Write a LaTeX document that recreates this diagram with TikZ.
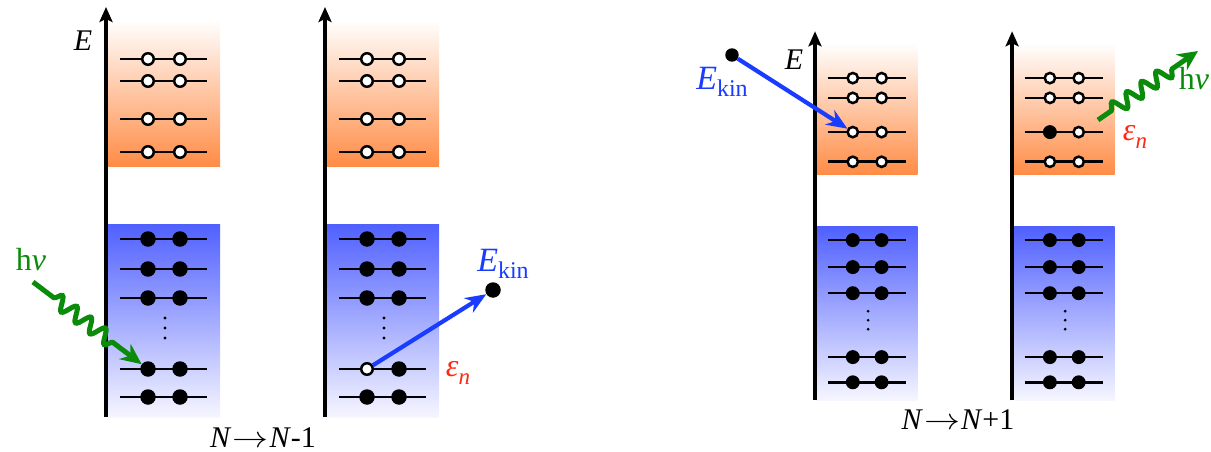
\documentclass[tikz,border=0pt]{standalone}
\usepackage{fix-cm}
\usepackage{graphicx}
\usepackage{fontspec}
\setmainfont{Liberation Serif}
\usetikzlibrary{arrows.meta,decorations.pathmorphing}
\definecolor{orangeC}{RGB}{255,140,70}
\definecolor{blueC}{RGB}{80,96,255}
\definecolor{blueBot}{RGB}{246,246,255}
\definecolor{greenC}{RGB}{10,140,10}
\definecolor{arrowblue}{RGB}{25,60,255}
\definecolor{redC}{RGB}{255,40,20}
\newcommand\subkin{\raisebox{-0.22em}{\fontsize{24}{24}\selectfont kin}}
\newcommand\subn{\raisebox{-0.25em}{\fontsize{23}{23}\selectfont\textit{n}}}
\newcommand\longarr{\kern1pt\scalebox{1.2}[1]{$\rightarrow$}\kern1pt}
\tikzset{
  axis/.style={line width=3.3pt, -{Stealth[length=15pt,width=13pt,inset=3pt]}},
  lvl/.style={line width=2.6pt},
  hole/.style={circle, draw=black, fill=white, line width=2.5pt, inner sep=0pt, minimum size=11.5pt, transform shape},
  elec/.style={circle, fill=black, inner sep=0pt, minimum size=15.5pt, transform shape},
  dotc/.style={circle, fill=black, inner sep=0pt, minimum size=3.4pt, transform shape},
  lab/.style={font=\fontsize{30}{36}\selectfont, inner sep=0pt},
  photon/.style={draw=greenC, line width=5pt, -{Stealth[length=21pt,width=19pt]}, decorate,
    decoration={snake, amplitude=7pt, segment length=18pt, pre length=26pt, post length=34pt}},
  photonb/.style={draw=greenC, line width=5pt, -{Stealth[length=20pt,width=19pt]}, decorate,
    decoration={snake, amplitude=7pt, segment length=18pt, pre length=16pt, post length=26pt}},
  eflow/.style={draw=arrowblue, line width=4.2pt, -{Stealth[length=21pt,width=17pt]}},
}
\newcommand\bandpanel[3]{%
  \shade[top color=white, bottom color=orangeC] (2,20) rectangle (114,166);
  \shade[top color=blueC, bottom color=blueBot] (2,224) rectangle (114,417);
  \draw[axis] (0,417) -- (0,7);
  \foreach \y in {59,81,119,152,239,269,298,369,397} {\draw[lvl] (14,\y) -- (101,\y);}
  \node[hole] (#1o1a) at (42,59) {};  \node[hole] (#1o1b) at (74,59) {};
  \node[hole] (#1o2a) at (42,81) {};  \node[hole] (#1o2b) at (74,81) {};
  \node[#2]   (#1o3a) at (42,119) {}; \node[hole] (#1o3b) at (74,119) {};
  \node[hole] (#1o4a) at (42,152) {}; \node[hole] (#1o4b) at (74,152) {};
  \node[elec] (#1b1a) at (42,239) {}; \node[elec] (#1b1b) at (74,239) {};
  \node[elec] (#1b2a) at (42,269) {}; \node[elec] (#1b2b) at (74,269) {};
  \node[elec] (#1b3a) at (42,298) {}; \node[elec] (#1b3b) at (74,298) {};
  \node[#3]   (#1b4a) at (42,369) {}; \node[elec] (#1b4b) at (74,369) {};
  \node[elec] (#1b5a) at (42,397) {}; \node[elec] (#1b5b) at (74,397) {};
  \node[dotc] (#1d1) at (59,318) {};
  \node[dotc] (#1d2) at (59,328) {};
  \node[dotc] (#1d3) at (59,338) {};
}
\begin{document}
\begin{tikzpicture}[x=1pt,y=-1pt]
\useasboundingbox (0,0) rectangle (1211,452);
\begin{scope}[shift={(106,0)}] \bandpanel{A}{hole}{elec} \end{scope}
\begin{scope}[shift={(325,0)}] \bandpanel{B}{hole}{hole} \end{scope}
\begin{scope}[shift={(719.6,25)}, scale=0.9]
  \begin{scope}[shift={(106,0)}] \bandpanel{C}{hole}{elec} \end{scope}
  \begin{scope}[shift={(325,0)}] \bandpanel{D}{elec}{elec} \end{scope}
\end{scope}
% left half
\node[lab] (E1) at (83,41) {\textit{E}};
\node[lab, font=\fontsize{32}{36}\selectfont, text=greenC] (hnu1) at (31,260) {h\textit{ν}};
\coordinate (p1s) at (33,282);
\draw[photon] (p1s) -- (Ab4a);
\node[elec] (ek1) at (493,290) {};
\draw[eflow] (Bb4a) -- (ek1);
\node[lab, font=\fontsize{34}{38}\selectfont, text=arrowblue] (ekl1) at (503,264) {\textit{E}\subkin};
\node[lab, font=\fontsize{32}{36}\selectfont, text=redC] (en1) at (458,373) {\textit{ε}\subn};
\node[lab] (t1) at (263,438) {\textit{N}\longarr\textit{N}-1};
% right half
\node[lab] (E2) at (794,60) {\textit{E}};
\node[elec, scale=0.87] (ek2) at (732,55) {};
\draw[eflow] (ek2) -- (Co3a);
\node[lab, font=\fontsize{34}{38}\selectfont, text=arrowblue] (ekl2) at (722,82) {\textit{E}\subkin};
\coordinate (p2s) at (1098,120);
\coordinate (p2e) at (1198,51);
\draw[photonb] (p2s) -- (p2e);
\node[lab, font=\fontsize{32}{36}\selectfont, text=greenC] (hnu2) at (1194,79) {h\textit{ν}};
\node[lab, font=\fontsize{32}{36}\selectfont, text=redC] (en2) at (1135,137) {\textit{ε}\subn};
\node[lab] (t2) at (958,420) {\textit{N}\longarr\textit{N}+1};
\end{tikzpicture}
\end{document}
